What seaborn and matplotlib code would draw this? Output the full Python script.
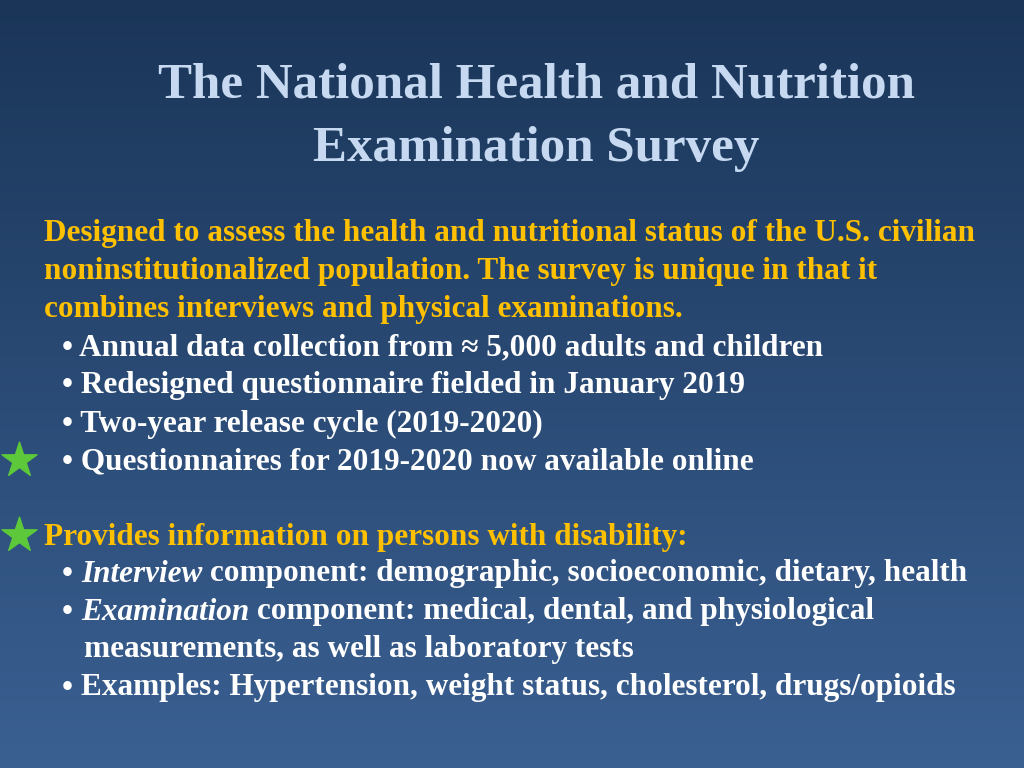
import numpy as np
import matplotlib.pyplot as plt
import seaborn as sns

sns.set_style("white")
plt.rcParams['font.family'] = 'Liberation Serif'
plt.rcParams['font.weight'] = 'bold'

# Contenido de la diapositiva
title_lines = ["The National Health and Nutrition", "Examination Survey"]
intro_lines = ["Designed to assess the health and nutritional status of the U.S. civilian",
               "noninstitutionalized population. The survey is unique in that it",
               "combines interviews and physical examinations."]
bullets1 = ["Annual data collection from \u2248 5,000 adults and children",
            "Redesigned questionnaire fielded in January 2019",
            "Two-year release cycle (2019-2020)",
            "Questionnaires for 2019-2020 now available online"]
heading2 = "Provides information on persons with disability:"
# (parte en cursiva, resto)
bullets2 = [("Interview", " component: demographic, socioeconomic, dietary, health"),
            ("Examination", " component: medical, dental, and physiological"),
            ("", "measurements, as well as laboratory tests"),
            ("", "Examples: Hypertension, weight status, cholesterol, drugs/opioids")]
star_rows = [460, 535]

fig = plt.figure(figsize=(10.24, 7.68), dpi=100)
ax = fig.add_axes([0, 0, 1, 1])
ax.set_xlim(0, 1024)
ax.set_ylim(768, 0)
ax.axis('off')

# Fondo degradado
top = np.array([0x1a, 0x35, 0x58]) / 255
bot = np.array([0x3a, 0x60, 0x92]) / 255
t = np.linspace(0, 1, 256)[:, None, None]
grad = top * (1 - t) + bot * t
grad = np.repeat(grad, 2, axis=1)
ax.imshow(grad, extent=[0, 1024, 768, 0], aspect='auto', zorder=0)

title_c = '#c6d9f1'
yellow = '#ffc000'
white = 'white'
fs = 22.5

ax.text(536, 86, title_lines[0], color=title_c, fontsize=36.7, ha='center', va='center')
ax.text(536, 149, title_lines[1], color=title_c, fontsize=36.7, ha='center', va='center')

y = 233
for line in intro_lines:
    ax.text(44, y, line, color=yellow, fontsize=fs, va='center')
    y += 38
y = 348
for line in bullets1:
    ax.text(62, y, "\u2022 " + line, color=white, fontsize=fs, va='center')
    y += 38

ax.text(44, 537, heading2, color=yellow, fontsize=fs, va='center')

fig.canvas.draw()
renderer = fig.canvas.get_renderer()
y = 574
for it, rest in bullets2:
    if rest.startswith("measurements"):
        ax.text(84, y, rest, color=white, fontsize=fs, va='center')
    else:
        b = ax.text(62, y, "\u2022 ", color=white, fontsize=fs, va='center')
        x = b.get_window_extent(renderer).x1
        if it:
            ti = ax.text(x, fig.bbox.height - y, it, color=white, fontsize=fs, va='center',
                         style='italic', transform=None)
            x = ti.get_window_extent(renderer).x1
        ax.text(x, fig.bbox.height - y, rest, color=white, fontsize=fs, va='center',
                transform=None)
    y += 38

ax.scatter([19] * len(star_rows), star_rows, marker='*', s=700, color='#5cc83a', zorder=3)

fig.savefig('out.png', dpi=100)
